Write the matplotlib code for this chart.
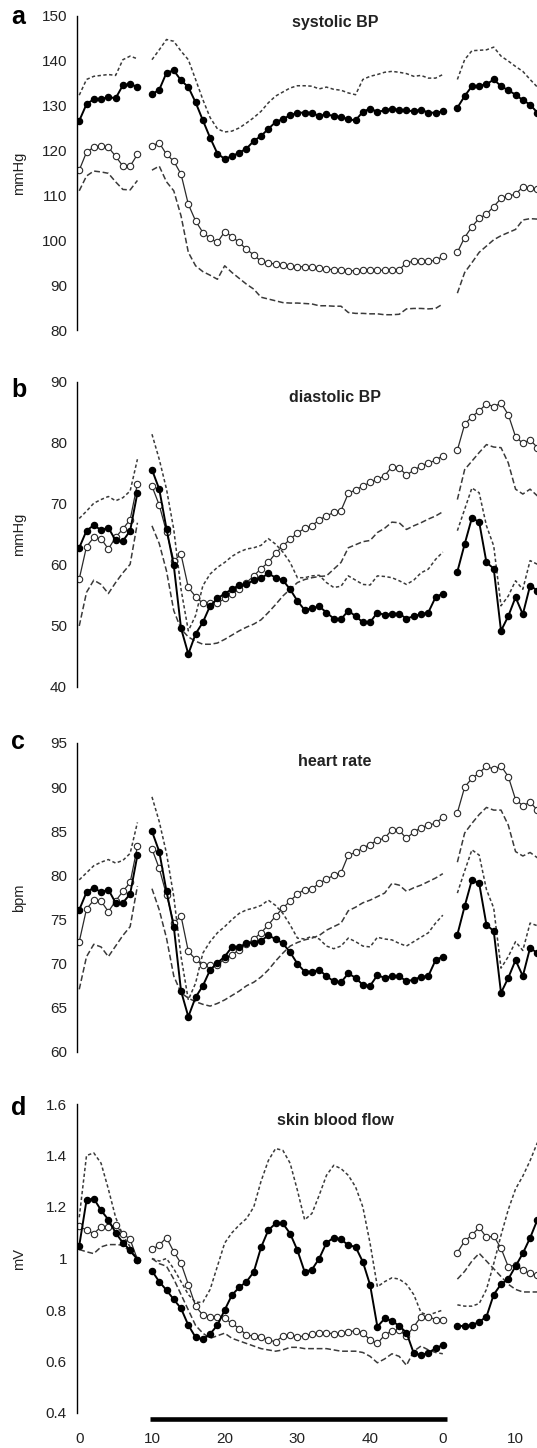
import numpy as np
import matplotlib
matplotlib.use('Agg')
import matplotlib.pyplot as plt
import matplotlib.transforms as mtransforms

plt.rcParams['font.family'] = ['Liberation Sans', 'DejaVu Sans']

# minutos: 0-8 (antes), 10-50 (durante), 52-63 (recuperação); None = intervalo
x_min = np.arange(0, 64)
x_tick_pos = [0, 10, 20, 30, 40, 50, 60]
x_tick_lab = ['0', '10', '20', '30', '40', '0', '10']
gap = [None]

# a - systolic BP
sbp_filled = [126.6, 130.3, 131.4, 131.4, 131.9, 131.6, 134.5, 134.8, 134.1] + gap + \
    [132.5, 133.5, 137.3, 137.8, 135.6, 134.1, 130.7, 126.7, 122.8, 119.3, 118.1, 118.7, 119.5, 120.4,
     122.1, 123.2, 124.8, 126.3, 127.0, 127.8, 128.4, 128.4, 128.4, 127.6, 128.1, 127.6, 127.5, 126.9,
     126.7, 128.6, 129.3, 128.6, 128.9, 129.3, 129.0, 128.9, 128.7, 129.1, 128.4, 128.4, 128.7] + gap + \
    [129.5, 132.1, 134.3, 134.4, 134.7, 135.8, 134.3, 133.4, 132.4, 131.2, 130.2, 128.4]
sbp_open = [115.6, 119.6, 120.7, 121.0, 120.7, 118.7, 116.5, 116.5, 119.1] + gap + \
    [121.0, 121.7, 119.1, 117.6, 114.7, 108.0, 104.3, 101.7, 100.4, 99.5, 101.9, 100.8, 99.5, 98.0,
     96.7, 95.3, 94.9, 94.7, 94.4, 94.3, 94.1, 94.1, 94.1, 93.7, 93.6, 93.4, 93.4, 93.2, 93.2, 93.3,
     93.3, 93.3, 93.3, 93.3, 93.4, 95.0, 95.3, 95.3, 95.3, 95.5, 96.4] + gap + \
    [97.3, 100.6, 103.0, 104.9, 105.8, 107.5, 109.3, 109.9, 110.2, 111.9, 111.6, 111.3]
sbp_upper = [132.3, 135.8, 136.5, 136.7, 136.9, 136.7, 140.2, 141.0, 140.4] + gap + \
    [140.2, 142.4, 144.7, 144.3, 142.1, 140.2, 135.8, 131.3, 127.3, 124.8, 124.1, 124.3, 125.0, 126.1,
     127.3, 128.7, 130.6, 132.1, 133.0, 133.9, 134.4, 134.4, 134.3, 133.7, 134.1, 133.6, 133.4, 132.8,
     132.4, 135.8, 136.5, 136.9, 137.4, 137.6, 137.4, 137.1, 136.5, 136.7, 136.1, 136.1, 136.9] + gap + \
    [135.8, 140.2, 142.2, 142.3, 142.4, 143.0, 141.0, 139.9, 138.7, 137.6, 135.8, 134.1]
sbp_lower = [111.0, 114.3, 115.4, 115.2, 114.9, 113.0, 111.3, 111.2, 113.3] + gap + \
    [115.6, 116.5, 113.0, 111.0, 105.4, 97.3, 94.3, 93.0, 92.2, 91.3, 94.3, 92.8, 91.5, 90.2,
     89.1, 87.3, 86.9, 86.5, 86.1, 86.0, 86.0, 85.9, 85.8, 85.4, 85.4, 85.3, 85.3, 83.9, 83.7, 83.7,
     83.6, 83.6, 83.4, 83.4, 83.5, 84.7, 84.8, 84.8, 84.7, 84.8, 85.8] + gap + \
    [88.2, 92.8, 95.0, 97.3, 98.7, 100.1, 101.0, 101.7, 102.4, 104.5, 104.8, 104.7]

# b - diastolic BP
dbp_filled = [62.8, 65.6, 66.5, 65.7, 66.1, 64.0, 63.9, 65.6, 71.8] + gap + \
    [75.6, 72.4, 65.9, 59.9, 49.6, 45.4, 48.7, 50.6, 53.3, 54.5, 55.3, 56.0, 56.7, 56.8, 57.5, 57.8,
     58.6, 57.9, 57.5, 56.0, 54.1, 52.6, 52.9, 53.2, 52.2, 51.2, 51.1, 52.5, 51.6, 50.6, 50.6, 52.2,
     51.8, 52.0, 52.0, 51.2, 51.6, 51.9, 52.2, 54.7, 55.3] + gap + \
    [58.9, 63.4, 67.7, 67.0, 60.4, 59.4, 49.2, 51.6, 54.7, 51.9, 56.6, 55.8]
dbp_open = [57.7, 63.0, 64.5, 64.3, 62.6, 64.5, 65.9, 67.4, 73.3] + gap + \
    [72.9, 69.8, 65.4, 60.7, 61.7, 56.3, 54.8, 53.7, 53.7, 53.7, 54.5, 55.2, 56.0, 57.1, 58.2, 59.4,
     60.4, 61.9, 63.1, 64.2, 65.2, 66.0, 66.4, 67.4, 68.0, 68.6, 68.9, 71.7, 72.3, 72.9, 73.5, 74.0,
     74.6, 76.1, 75.9, 74.7, 75.5, 76.2, 76.7, 77.1, 77.9] + gap + \
    [78.8, 83.0, 84.3, 85.2, 86.4, 85.9, 86.5, 84.6, 81.0, 79.9, 80.5, 79.2]
dbp_upper = [67.6, 68.8, 70.1, 70.7, 71.2, 70.5, 71.0, 72.1, 77.3] + gap + \
    [81.4, 77.3, 72.4, 65.8, 56.0, 49.2, 51.7, 56.6, 58.5, 59.6, 60.4, 61.4, 62.1, 62.6, 62.8, 63.2,
     64.3, 63.4, 62.1, 60.4, 57.9, 57.9, 58.2, 58.3, 57.1, 56.3, 56.5, 58.2, 57.5, 56.8, 56.7, 58.2,
     58.1, 57.9, 57.4, 56.8, 57.5, 58.7, 59.3, 60.9, 62.1] + gap + \
    [65.6, 69.1, 72.6, 71.8, 66.4, 63.1, 53.3, 54.9, 57.4, 56.0, 60.7, 60.1]
dbp_lower = [50.0, 55.5, 57.5, 56.8, 55.3, 57.1, 58.7, 60.1, 66.9] + gap + \
    [66.4, 63.5, 59.0, 52.5, 49.5, 48.2, 47.5, 47.0, 47.0, 47.2, 47.8, 48.5, 49.2, 49.8, 50.3, 51.0,
     52.2, 53.5, 54.9, 56.0, 57.1, 57.6, 57.9, 58.1, 58.2, 59.3, 60.4, 62.8, 63.3, 63.8, 64.0, 65.3,
     66.0, 67.0, 66.9, 65.8, 66.4, 66.9, 67.5, 68.0, 68.7] + gap + \
    [70.7, 75.6, 77.0, 78.4, 79.7, 79.3, 79.2, 76.7, 72.4, 71.6, 72.4, 71.3]

# c - heart rate
hr_filled = [76.1, 78.1, 78.6, 78.1, 78.4, 76.9, 76.9, 77.9, 82.3] + gap + \
    [85.0, 82.7, 78.2, 74.2, 66.9, 64.0, 66.2, 67.5, 69.3, 70.1, 70.8, 71.9, 71.9, 72.3, 72.4, 72.6,
     73.2, 72.8, 72.3, 71.3, 70.0, 69.1, 69.1, 69.3, 68.6, 68.0, 67.9, 68.9, 68.4, 67.6, 67.5, 68.7,
     68.4, 68.6, 68.6, 68.0, 68.2, 68.5, 68.6, 70.4, 70.8] + gap + \
    [73.3, 76.5, 79.5, 79.1, 74.4, 73.7, 66.7, 68.4, 70.4, 68.6, 71.8, 71.2]
hr_open = [72.5, 76.2, 77.2, 77.1, 75.9, 77.1, 78.2, 79.2, 83.3] + gap + \
    [83.0, 80.8, 77.8, 74.6, 75.4, 71.4, 70.5, 69.8, 69.8, 69.9, 70.5, 71.0, 71.6, 72.2, 72.8, 73.5,
     74.4, 75.4, 76.3, 77.1, 77.9, 78.4, 78.5, 79.1, 79.6, 80.0, 80.3, 82.3, 82.6, 83.1, 83.5, 84.0,
     84.2, 85.2, 85.1, 84.2, 84.9, 85.4, 85.7, 85.9, 86.6] + gap + \
    [87.1, 90.0, 91.0, 91.6, 92.4, 92.0, 92.4, 91.2, 88.6, 87.9, 88.3, 87.4]
hr_upper = [79.5, 80.3, 81.1, 81.5, 81.8, 81.4, 81.7, 82.5, 86.0] + gap + \
    [88.9, 86.1, 82.5, 77.6, 70.8, 65.9, 67.8, 71.2, 72.5, 73.5, 74.2, 75.0, 75.7, 76.1, 76.3, 76.6,
     77.2, 76.6, 75.7, 74.4, 72.9, 72.8, 73.1, 72.8, 72.0, 71.7, 72.0, 72.9, 72.5, 72.0, 71.9, 73.0,
     72.8, 72.7, 72.3, 72.0, 72.5, 73.0, 73.5, 74.6, 75.5] + gap + \
    [78.0, 80.5, 82.9, 82.3, 78.4, 76.3, 69.5, 70.8, 72.5, 71.5, 74.6, 74.3]
hr_lower = [67.1, 70.8, 72.2, 71.9, 70.8, 72.0, 73.2, 74.2, 78.8] + gap + \
    [78.5, 76.1, 72.9, 68.6, 66.7, 66.1, 65.7, 65.4, 65.2, 65.5, 65.9, 66.4, 66.9, 67.5, 67.9, 68.5,
     69.3, 70.3, 71.2, 72.0, 72.4, 72.7, 72.9, 73.2, 73.8, 74.2, 74.6, 76.0, 76.4, 76.9, 77.2, 77.6,
     78.0, 79.1, 78.9, 78.2, 78.6, 78.9, 79.3, 79.7, 80.2] + gap + \
    [81.5, 84.8, 85.9, 86.9, 87.7, 87.4, 87.4, 85.7, 82.7, 82.2, 82.6, 82.0]

# d - skin blood flow
sbf_filled = [1.05, 1.226, 1.233, 1.187, 1.151, 1.10, 1.061, 1.032, 0.996] + gap + \
    [0.952, 0.91, 0.877, 0.841, 0.806, 0.741, 0.694, 0.686, 0.707, 0.741, 0.80, 0.858, 0.888, 0.91,
     0.948, 1.043, 1.11, 1.136, 1.136, 1.097, 1.032, 0.948, 0.957, 1.0, 1.061, 1.081, 1.074, 1.052,
     1.045, 0.987, 0.897, 0.735, 0.767, 0.758, 0.738, 0.712, 0.632, 0.625, 0.634, 0.651, 0.664] + gap + \
    [0.738, 0.738, 0.741, 0.754, 0.774, 0.86, 0.90, 0.92, 0.97, 1.02, 1.08, 1.15]
sbf_open = [1.125, 1.11, 1.097, 1.123, 1.123, 1.129, 1.097, 1.074, 0.996] + gap + \
    [1.035, 1.052, 1.081, 1.026, 0.981, 0.899, 0.815, 0.78, 0.774, 0.774, 0.767, 0.748, 0.728, 0.703,
     0.699, 0.696, 0.683, 0.677, 0.699, 0.703, 0.696, 0.699, 0.707, 0.709, 0.712, 0.707, 0.709, 0.716,
     0.719, 0.712, 0.683, 0.670, 0.703, 0.719, 0.722, 0.699, 0.735, 0.774, 0.774, 0.763, 0.763] + gap + \
    [1.023, 1.068, 1.091, 1.121, 1.082, 1.087, 1.04, 0.968, 0.975, 0.955, 0.942, 0.935]
sbf_upper = [1.16, 1.40, 1.41, 1.37, 1.27, 1.16, 1.09, 1.045, 1.0] + gap + \
    [1.00, 0.99, 1.00, 0.96, 0.91, 0.86, 0.83, 0.83, 0.88, 0.97, 1.06, 1.10, 1.13, 1.155, 1.20, 1.30,
     1.38, 1.427, 1.42, 1.37, 1.265, 1.15, 1.175, 1.246, 1.323, 1.362, 1.349, 1.323, 1.278, 1.20,
     1.058, 0.89, 0.91, 0.925, 0.92, 0.90, 0.86, 0.79, 0.78, 0.79, 0.80] + gap + \
    [0.82, 0.815, 0.815, 0.825, 0.88, 0.98, 1.09, 1.19, 1.27, 1.32, 1.38, 1.45]
sbf_lower = [1.035, 1.026, 1.019, 1.045, 1.054, 1.054, 1.052, 1.026, 1.0] + gap + \
    [1.00, 0.98, 0.97, 0.92, 0.86, 0.80, 0.74, 0.71, 0.69, 0.70, 0.71, 0.69, 0.68, 0.67, 0.66, 0.65,
     0.645, 0.64, 0.645, 0.655, 0.655, 0.65, 0.65, 0.65, 0.65, 0.645, 0.64, 0.64, 0.64, 0.635, 0.62,
     0.595, 0.61, 0.63, 0.62, 0.585, 0.64, 0.66, 0.645, 0.635, 0.63] + gap + \
    [0.92, 0.95, 0.99, 1.02, 0.99, 0.96, 0.93, 0.90, 0.88, 0.87, 0.87, 0.87]

letters = ['a', 'b', 'c', 'd']
titles = ['systolic BP', 'diastolic BP', 'heart rate', 'skin blood flow']
units = ['mmHg', 'mmHg', 'bpm', 'mV']
yticks = [[80, 90, 100, 110, 120, 130, 140, 150],
          [40, 50, 60, 70, 80, 90],
          [60, 65, 70, 75, 80, 85, 90, 95],
          [0.4, 0.6, 0.8, 1.0, 1.2, 1.4, 1.6]]
ytick_lab = [[str(v) for v in yticks[0]],
             [str(v) for v in yticks[1]],
             [str(v) for v in yticks[2]],
             ['0.4', '0.6', '0.8', '1', '1.2', '1.4', '1.6']]
series = [(sbp_filled, sbp_open, sbp_upper, sbp_lower),
          (dbp_filled, dbp_open, dbp_upper, dbp_lower),
          (hr_filled, hr_open, hr_upper, hr_lower),
          (sbf_filled, sbf_open, sbf_upper, sbf_lower)]

W, H = 537, 1448
fig = plt.figure(figsize=(W / 100, H / 100), dpi=100)

# posições em pixels (topo, base) de cada painel
tops = [15.7, 381.7, 743, 1104]
bots = [330, 687, 1052, 1413]
ax_left = 76.7
letter_base = [24, 396.7, 749, 1115]
title_base = [27.3, 401.7, 766, 1125]

for i in range(4):
    ax = fig.add_axes([ax_left / W, 1 - bots[i] / H, 1 - ax_left / W, (bots[i] - tops[i]) / H])
    filled, opn, up, lo = [np.array(s, dtype=float) for s in series[i]]

    ax.plot(x_min, up, color='#3a3a3a', lw=1.1, ls=(0, (2.2, 1.6)))
    ax.plot(x_min, lo, color='#3a3a3a', lw=1.1, ls=(0, (3.8, 1.8)))
    ax.plot(x_min, opn, color='#2a2a2a', lw=0.9, marker='o', ms=4.6,
            mfc='white', mec='#2a2a2a', mew=0.8)
    ax.plot(x_min, filled, color='black', lw=1.4, marker='o', ms=4.4,
            mfc='black', mec='black')

    ax.set_xlim(-0.35, 62.95)
    ax.set_ylim(yticks[i][0], yticks[i][-1])
    ax.set_yticks(yticks[i])
    ax.set_yticklabels(ytick_lab[i])
    ax.tick_params(axis='y', length=0, pad=7, labelsize=11, labelcolor='#222222')
    for s in ['top', 'right', 'bottom']:
        ax.spines[s].set_visible(False)
    ax.spines['left'].set_linewidth(1.0)
    ax.patch.set_alpha(0)

    if i < 3:
        ax.set_xticks([])
    else:
        ax.set_xticks(x_tick_pos)
        ax.set_xticklabels(x_tick_lab)
        ax.tick_params(axis='x', length=0, pad=14, labelsize=11, labelcolor='#222222')
        # barra preta do período de exposição
        trans = mtransforms.blended_transform_factory(ax.transData, ax.transAxes)
        ax.plot([9.7, 50.6], [-0.02, -0.02], color='black', lw=3.3,
                solid_capstyle='butt', transform=trans, clip_on=False)

    fig.text(11.3 / W, 1 - letter_base[i] / H, letters[i], fontsize=18, fontweight='bold',
             ha='left', va='baseline')
    fig.text(335 / W, 1 - title_base[i] / H, titles[i], fontsize=11.5, fontweight='bold',
             ha='center', va='baseline', color='#222222')
    fig.text(18.8 / W, 1 - (tops[i] + bots[i]) / 2 / H, units[i], fontsize=10.5, rotation=90,
             ha='center', va='center', color='#222222')

fig.savefig('out.png', dpi=100)
